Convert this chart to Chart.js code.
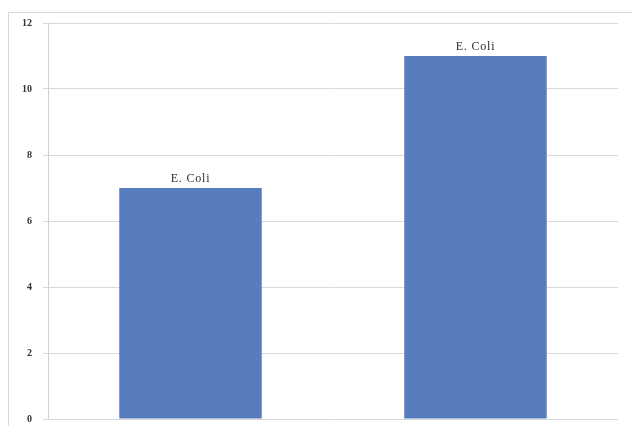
<!DOCTYPE html>
<html>
<head>
<meta charset="utf-8">
<script src="https://cdn.jsdelivr.net/npm/chart.js@4/dist/chart.umd.min.js"></script>
<style>
  html, body { margin: 0; padding: 0; background: #fff; }
  #wrap { position: relative; width: 632px; height: 426px; overflow: hidden; }
  #frame { position: absolute; left: 8px; top: 12px; width: 700px; height: 500px;
           border-left: 1px solid #d9d9d9; border-top: 1px solid #d9d9d9; }
  canvas { position: absolute; left: 0; top: 0; }
</style>
</head>
<body>
<div id="wrap">
  <div id="frame"></div>
  <canvas id="myChart" width="632" height="426"></canvas>
</div>
<script>
// data
var categories = ['E. Coli', 'E. Coli'];
var values = [7, 11];
var yTicks = [0, 2, 4, 6, 8, 10, 12];

// draws the label text above each bar
var barLabels = {
    id: 'barLabels',
    afterDatasetsDraw: function(chart) {
        var ctx = chart.ctx;
        var meta = chart.getDatasetMeta(0);
        ctx.save();
        ctx.font = '12px "Liberation Serif", serif';
        ctx.fillStyle = '#2e2e2e';
        ctx.textAlign = 'center';
        ctx.textBaseline = 'bottom';
        if ('letterSpacing' in ctx) ctx.letterSpacing = '0.8px';
        meta.data.forEach(function(bar, i) {
            ctx.fillText(categories[i], bar.x, bar.y - 3);
        });
        ctx.restore();
    }
};

var config = {
    type: 'bar',
    data: {
        labels: categories,
        datasets: [{
            data: values,
            backgroundColor: '#587dbf',
            borderWidth: 0,
            barPercentage: 0.5,
            categoryPercentage: 1.0
        }]
    },
    options: {
        responsive: false,
        animation: false,
        layout: {
            padding: { left: 0, right: 14, top: 23, bottom: 7 }
        },
        plugins: {
            legend: { display: false },
            tooltip: { enabled: false }
        },
        scales: {
            x: {
                display: false
            },
            y: {
                min: 0,
                max: 12,
                afterBuildTicks: function(scale) {
                    scale.ticks = yTicks.map(function(v) { return { value: v }; });
                },
                afterFit: function(scale) {
                    scale.width = 48; // plot starts at x=48
                    scale.paddingTop = 0;
                    scale.paddingBottom = 0;
                },
                ticks: {
                    padding: 11,
                    color: '#333333',
                    font: { family: '"Liberation Serif", serif', size: 10, weight: 'bold' }
                },
                grid: {
                    color: '#d9d9d9',
                    tickLength: 5,
                    drawTicks: true
                },
                border: { display: true, color: '#d0d0d0' }
            }
        }
    },
    plugins: [barLabels]
};
var ctx = document.getElementById('myChart').getContext('2d');
var chart = new Chart(ctx, config);
</script>
</body>
</html>
